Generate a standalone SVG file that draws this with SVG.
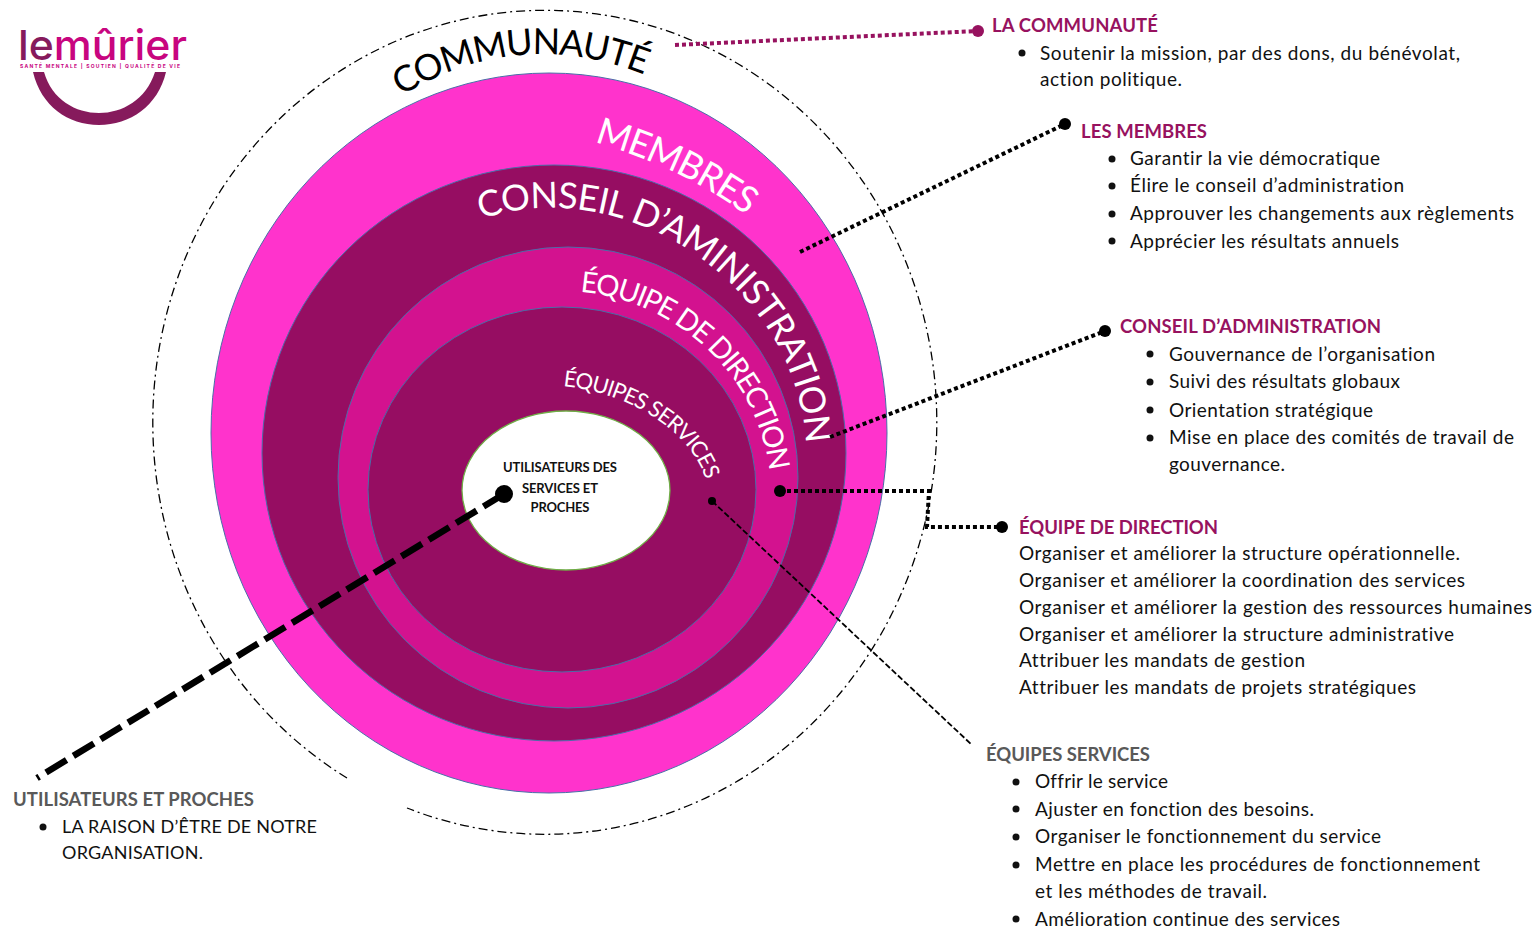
<svg xmlns="http://www.w3.org/2000/svg" width="1537" height="929" viewBox="0 0 1537 929">
<style>
text{font-family:"Lato","Open Sans","Liberation Sans",sans-serif;font-variant-ligatures:none}
.h{font-size:18.500px;font-weight:700;fill:#97125f}
.g{font-size:18.500px;font-weight:700;fill:#595959}
.t{font-size:19px;fill:#111}
.u{font-size:18px;fill:#111}
.b{fill:#111}
.ring{stroke:#4a6ea8;stroke-width:1}
.c{fill:none;stroke:#000}
.arc{font-size:37px;fill:#fff}
</style>
<defs>
<path id="pCom" d="M401 96Q520 24 648 76"/>
<path id="pMem" d="M594 142Q683 168 746 215"/>
<path id="pCon" d="M481 219C630 170 800 290 806 447"/>
<path id="pDir" d="M580 292C665 298 755 365 769 468"/>
<path id="pEq" d="M563 386C625 392 688 428 705 477"/>
</defs>
<rect width="1537" height="929" fill="#fff"/>
<g id="logo">
<text x="18" y="60" font-size="41" font-weight="500" textLength="169" lengthAdjust="spacingAndGlyphs" style="font-family:'Inter','Liberation Sans',sans-serif"><tspan fill="#861a5c">le</tspan><tspan fill="#c8057f">mûrier</tspan></text>
<text x="20" y="68" font-size="5" font-weight="700" fill="#c8057f" textLength="160" style="font-family:'Inter','Liberation Sans',sans-serif">SANTÉ MENTALE | SOUTIEN | QUALITÉ DE VIE</text>
<path d="M33 72H44C52 100 76 113 99 113C122 113 146 100 155 72H166C158 106 130 125 99 125C68 125 41 106 33 72Z" fill="#861a5c"/>
</g>
<g id="communaute">
<path d="M347 778A392 412 0 1 1 407 808" class="c" stroke-width="1.300" stroke-dasharray="9 4 2 4"/>
<text class="arc" style="fill:#000;font-size:36px"><textPath href="#pCom" textLength="254">COMMUNAUTÉ</textPath></text>
</g>
<g id="membres">
<ellipse class="ring" cx="549" cy="433" rx="338" ry="360" fill="#ff33cc"/>
<text class="arc"><textPath href="#pMem" textLength="170">MEMBRES</textPath></text>
</g>
<g id="conseil">
<ellipse class="ring" cx="554" cy="453" rx="292" ry="288" fill="#960d62"/>
<text class="arc" style="font-size:36px"><textPath href="#pCon" textLength="452">CONSEIL D’AMINISTRATION</textPath></text>
</g>
<g id="direction">
<ellipse class="ring" cx="568" cy="477.500" rx="230" ry="230.500" fill="#d3128f"/>
<text class="arc" style="font-size:29px"><textPath href="#pDir" textLength="282">ÉQUIPE DE DIRECTION</textPath></text>
</g>
<g id="services">
<ellipse class="ring" cx="562" cy="489.500" rx="194" ry="182.500" fill="#960d62"/>
<text class="arc" style="font-size:22px"><textPath href="#pEq" textLength="180">ÉQUIPES SERVICES</textPath></text>
</g>
<g id="utilisateurs">
<ellipse cx="566" cy="490.500" rx="104" ry="79.500" fill="#fff" stroke="#70ad47" stroke-width="1.300"/>
<g font-size="13" font-weight="700" fill="#111" text-anchor="middle">
<text x="560" y="472" textLength="114">UTILISATEURS DES</text>
<text x="560" y="493" textLength="76">SERVICES ET</text>
<text x="560" y="512" textLength="59">PROCHES</text>
</g>
</g>
<g id="connectors">
<path d="M675 45L978 31" class="c" style="stroke:#97125f" stroke-width="4" stroke-dasharray="4 3"/>
<circle cx="978" cy="31" r="6" fill="#97125f"/>
<path d="M800 252L1065 124" class="c" stroke-width="4" stroke-dasharray="4 3"/>
<circle cx="1065" cy="124" r="6"/>
<path d="M830 437L1105 331" class="c" stroke-width="4" stroke-dasharray="4 3"/>
<circle cx="1105" cy="331" r="6"/>
<path d="M780 491H929L927 527H1002" class="c" stroke-width="4" stroke-dasharray="4 3"/>
<circle cx="780" cy="491" r="6"/><circle cx="1002" cy="527" r="6"/>
<path d="M712 501L972 745" class="c" stroke-width="1.800" stroke-dasharray="6 2.500"/>
<circle cx="712" cy="501" r="4"/>
<path d="M504 494L37 778" class="c" stroke-width="6.500" stroke-dasharray="24 8"/>
<circle cx="504" cy="494" r="9"/>
</g>
<g id="text-communaute">
<text class="h" x="992" y="31.500" textLength="166">LA COMMUNAUTÉ</text>
<circle class="b" cx="1022" cy="53" r="3.500"/>
<text class="t" x="1040" y="59.500" textLength="420">Soutenir la mission, par des dons, du bénévolat,</text>
<text class="t" x="1040" y="86" textLength="142">action politique.</text>
</g>
<g id="text-membres">
<text class="h" x="1081" y="137.500" textLength="126">LES MEMBRES</text>
<circle class="b" cx="1112" cy="159" r="3.500"/><text class="t" x="1130" y="165" textLength="250">Garantir la vie démocratique</text>
<circle class="b" cx="1112" cy="186" r="3.500"/><text class="t" x="1130" y="192" textLength="274">Élire le conseil d’administration</text>
<circle class="b" cx="1112" cy="214" r="3.500"/><text class="t" x="1130" y="220" textLength="384">Approuver les changements aux règlements</text>
<circle class="b" cx="1112" cy="241" r="3.500"/><text class="t" x="1130" y="247.500" textLength="269">Apprécier les résultats annuels</text>
</g>
<g id="text-conseil">
<text class="h" x="1120" y="332.500" textLength="261">CONSEIL D’ADMINISTRATION</text>
<circle class="b" cx="1150" cy="354" r="3.500"/><text class="t" x="1169" y="360.500" textLength="266">Gouvernance de l’organisation</text>
<circle class="b" cx="1150" cy="382" r="3.500"/><text class="t" x="1169" y="388" textLength="231">Suivi des résultats globaux</text>
<circle class="b" cx="1150" cy="410" r="3.500"/><text class="t" x="1169" y="416.500" textLength="204">Orientation stratégique</text>
<circle class="b" cx="1150" cy="438" r="3.500"/><text class="t" x="1169" y="444" textLength="345">Mise en place des comités de travail de</text>
<text class="t" x="1169" y="470.500" textLength="116">gouvernance.</text>
</g>
<g id="text-direction">
<text class="h" x="1019" y="533.500" textLength="199">ÉQUIPE DE DIRECTION</text>
<text class="t" x="1019" y="560" textLength="441">Organiser et améliorer la structure opérationnelle.</text>
<text class="t" x="1019" y="586.500" textLength="446">Organiser et améliorer la coordination des services</text>
<text class="t" x="1019" y="614" textLength="513">Organiser et améliorer la gestion des ressources humaines</text>
<text class="t" x="1019" y="640.500" textLength="435">Organiser et améliorer la structure administrative</text>
<text class="t" x="1019" y="667" textLength="286">Attribuer les mandats de gestion</text>
<text class="t" x="1019" y="693.500" textLength="397">Attribuer les mandats de projets stratégiques</text>
</g>
<g id="text-services">
<text class="g" x="986" y="760.500" textLength="164">ÉQUIPES SERVICES</text>
<circle class="b" cx="1016" cy="782" r="3.500"/><text class="t" x="1035" y="788" textLength="133">Offrir le service</text>
<circle class="b" cx="1016" cy="809" r="3.500"/><text class="t" x="1035" y="815.500" textLength="279">Ajuster en fonction des besoins.</text>
<circle class="b" cx="1016" cy="837" r="3.500"/><text class="t" x="1035" y="843" textLength="346">Organiser le fonctionnement du service</text>
<circle class="b" cx="1016" cy="865" r="3.500"/><text class="t" x="1035" y="871" textLength="445">Mettre en place les procédures de fonctionnement</text>
<text class="t" x="1035" y="898" textLength="232">et les méthodes de travail.</text>
<circle class="b" cx="1016" cy="919" r="3.500"/><text class="t" x="1035" y="925.500" textLength="305">Amélioration continue des services</text>
</g>
<g id="text-utilisateurs">
<text class="g" x="13" y="805.500" textLength="241">UTILISATEURS ET PROCHES</text>
<circle class="b" cx="43" cy="827" r="3.500"/><text class="u" x="62" y="833" textLength="255">LA RAISON D’ÊTRE DE NOTRE</text>
<text class="u" x="62" y="859" textLength="141">ORGANISATION.</text>
</g>
</svg>
